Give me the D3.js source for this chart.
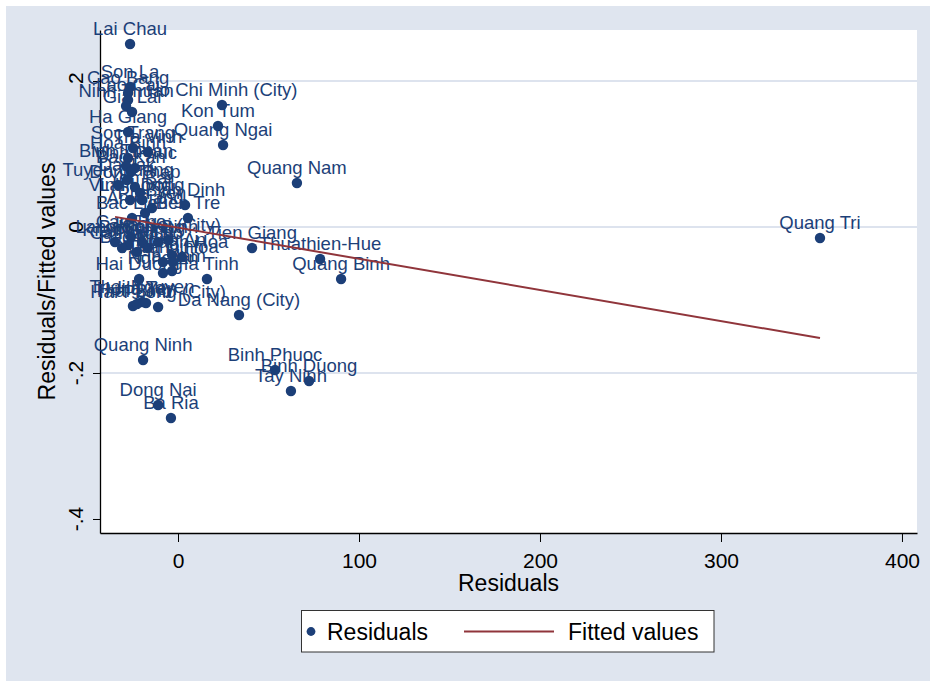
<!DOCTYPE html>
<html>
<head>
<meta charset="utf-8">
<script src="https://cdn.jsdelivr.net/npm/d3@7/dist/d3.min.js"></script>
<style>
  html, body { margin: 0; padding: 0; background: #ffffff; }
  svg { display: block; font-family: "Liberation Sans", Arial, Helvetica, sans-serif; }
</style>
</head>
<body>
<svg id="chart" width="930" height="681"></svg>
<script>
// Provinces, their residuals (x) and residual/fitted ratios (y)
const provinces = [
  "Lai Chau", "Son La", "Cao Bang", "Lao Cai", "Ninh Thuan", "Gia Lai",
  "Ho Chi Minh (City)", "Kon Tum", "Quang Ngai", "Ha Giang", "Quang Nam",
  "Tra Vinh", "Hoa Binh", "Soc Trang", "Binh Thuan", "Bac Kan", "Dong Thap",
  "Daklak", "Tuyen Quang", "Vinh Phuc", "Yen Bai", "Binh Dinh", "Ben Tre",
  "Bac Lieu", "Lam Dong", "Phu Yen", "An Giang", "Vinh Long", "Ha Noi (City)",
  "Can Tho", "Tien Giang", "Thuathien-Hue", "Quang Binh", "Quang Tri",
  "Lang Son", "Kien Giang", "Long An", "Khanh Hoa", "Thanh Hoa", "Nghe An",
  "Ha Nam", "Hai Duong", "Ha Tinh", "Thai Binh", "Thai Nguyen",
  "Hai Phong (City)", "Hung Yen", "Ha Tay", "Da Nang (City)", "Quang Ninh",
  "Binh Phuoc", "Binh Duong", "Tay Ninh", "Dong Nai", "Ba Ria", "Ca Mau",
  "Bac Giang", "Bac Ninh", "Phu Tho", "Ninh Binh", "Nam Dinh"
];
const residuals = [
  -26.5, -26.5, -27.6, -27.6, -28.7, -25.4,
  24.3, 22.1, 24.9, -27.6, 65.7,
  -16.6, -27.6, -24.9, -28.7, -26.0, -23.8,
  -28.2, -33.1, -23.8, -21.0, 3.9, 5.5,
  -25.4, -19.9, -14.4, -18.2, -26.5, -5.5,
  -26.0, 40.9, 78.5, 90.1, 354.7,
  -34.8, -27.6, -3.3, 2.2, -2.8, -8.3,
  -3.3, -21.5, 16.0, -24.9, -19.9,
  -11.0, -22.7, -17.7, 33.7, -19.3,
  53.6, 72.4, 62.4, -11.0, -3.9, -30.9,
  -19.9, -22.7, -16.6, -11.0, -8.3
];
const ratios = [
  0.2507, 0.1918, 0.1836, 0.1740, 0.1658, 0.1575,
  0.1671, 0.1384, 0.1123, 0.1301, 0.0603,
  0.1027, 0.0945, 0.1082, 0.0836, 0.0753, 0.0548,
  0.0644, 0.0575, 0.0808, 0.0466, 0.0301, 0.0123,
  0.0123, 0.0370, 0.0260, 0.0192, 0.0370, -0.0178,
  -0.0137, -0.0288, -0.0438, -0.0712, -0.0151,
  -0.0205, -0.0247, -0.0384, -0.0411, -0.0479, -0.0630,
  -0.0603, -0.0712, -0.0712, -0.1082, -0.1027,
  -0.1096, -0.1055, -0.1041, -0.1205, -0.1822,
  -0.1959, -0.2110, -0.2247, -0.2438, -0.2616, -0.0288,
  -0.0205, -0.0342, -0.0288, -0.0205, -0.0479
];

// Fitted regression line (end points)
const fittedX = [-34.8, 354.7];
const fittedY = [0.0139, -0.1521];

// Axis ticks
const xTicks = [0, 100, 200, 300, 400];
const yTicks = [-0.4, -0.2, 0, 0.2];
const yTickLabels = ["-.4", "-.2", "0", ".2"];
const gridTicks = [-0.2, 0, 0.2];

const navy = "#1c3f78";
const maroon = "#90353b";
const bg = "#dfe5ef";

const svg = d3.select("#chart");

// Graph region
svg.append("rect").attr("x", 6).attr("y", 6).attr("width", 924).attr("height", 675).attr("fill", bg);

const plot = { left: 100, right: 917, top: 30, bottom: 533 };
const x = d3.scaleLinear().domain([-43.1, 408.3]).range([plot.left, plot.right]);
const y = d3.scaleLinear().domain([-0.4192, 0.2699]).range([plot.bottom, plot.top]);

// Plot region
svg.append("rect")
  .attr("x", plot.left).attr("y", plot.top)
  .attr("width", plot.right - plot.left).attr("height", plot.bottom - plot.top)
  .attr("fill", "#ffffff");

// Grid lines
svg.append("g").selectAll("line").data(gridTicks).join("line")
  .attr("x1", plot.left).attr("x2", plot.right)
  .attr("y1", d => y(d)).attr("y2", d => y(d))
  .attr("stroke", "#dde3ee").attr("stroke-width", 2);

// X axis
const xAxis = svg.append("g")
  .attr("transform", `translate(0,${plot.bottom})`)
  .call(d3.axisBottom(x).tickValues(xTicks).tickFormat(d3.format("d")).tickSize(9).tickSizeOuter(0).tickPadding(11));
xAxis.select(".domain").attr("stroke", "#000").attr("stroke-width", 1.3);
xAxis.selectAll(".tick line").attr("stroke", "#000").attr("stroke-width", 1);
xAxis.selectAll(".tick text").attr("font-size", 21).attr("fill", "#000")
  .attr("font-family", "'Liberation Sans', Arial, sans-serif");

// Y axis
const yAxis = svg.append("g")
  .attr("transform", `translate(${plot.left},0)`)
  .call(d3.axisLeft(y).tickValues(yTicks).tickSize(7).tickSizeOuter(0).tickFormat(""));
yAxis.select(".domain").attr("stroke", "#000").attr("stroke-width", 1.3);
yAxis.selectAll(".tick line").attr("stroke", "#000").attr("stroke-width", 1);
svg.append("g").selectAll("text").data(yTicks).join("text")
  .attr("transform", d => `translate(83,${y(d)}) rotate(-90)`)
  .attr("text-anchor", "middle")
  .attr("font-size", 21).attr("fill", "#000")
  .text((d, i) => yTickLabels[i]);

// Axis titles
svg.append("text").attr("x", (plot.left + plot.right) / 2).attr("y", 591)
  .attr("text-anchor", "middle").attr("font-size", 23).attr("fill", "#000").text("Residuals");
svg.append("text").attr("transform", `translate(55,${(plot.top + plot.bottom) / 2}) rotate(-90)`)
  .attr("text-anchor", "middle").attr("font-size", 23).attr("fill", "#000").text("Residuals/Fitted values");

// Scatter points with labels
const pts = provinces.map((name, i) => ({ name, rx: residuals[i], ry: ratios[i] }));
const gPts = svg.append("g");
gPts.selectAll("circle").data(pts).join("circle")
  .attr("cx", d => x(d.rx)).attr("cy", d => y(d.ry)).attr("r", 5.2)
  .attr("fill", navy);
gPts.selectAll("text").data(pts).join("text")
  .attr("x", d => x(d.rx)).attr("y", d => y(d.ry) - 9)
  .attr("text-anchor", "middle").attr("font-size", 18.5).attr("fill", navy)
  .text(d => d.name);

// Fitted line
svg.append("path")
  .datum(fittedX.map((v, i) => [v, fittedY[i]]))
  .attr("d", d3.line().x(d => x(d[0])).y(d => y(d[1])))
  .attr("fill", "none").attr("stroke", maroon).attr("stroke-width", 2);

// Legend
const lg = svg.append("g");
lg.append("rect").attr("x", 301.5).attr("y", 610.5).attr("width", 412.5).attr("height", 41.5)
  .attr("fill", "#fff").attr("stroke", "#333").attr("stroke-width", 1);
lg.append("circle").attr("cx", 311).attr("cy", 631.5).attr("r", 4.4).attr("fill", navy);
lg.append("text").attr("x", 327).attr("y", 639.5).attr("font-size", 23).attr("fill", "#000").text("Residuals");
lg.append("line").attr("x1", 464).attr("x2", 554).attr("y1", 631.5).attr("y2", 631.5)
  .attr("stroke", maroon).attr("stroke-width", 2);
lg.append("text").attr("x", 568).attr("y", 639.5).attr("font-size", 23).attr("fill", "#000").text("Fitted values");
</script>
</body>
</html>
